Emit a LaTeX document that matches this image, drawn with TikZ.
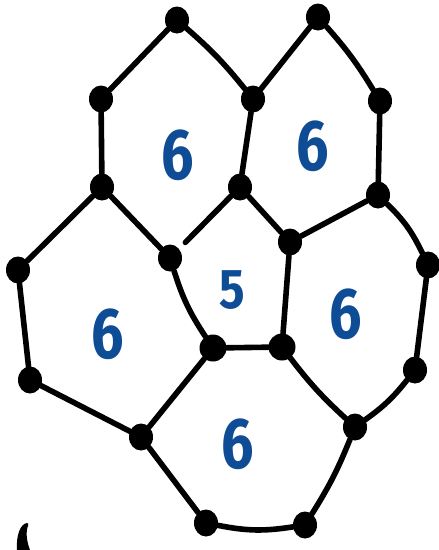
\documentclass[tikz,border=0pt]{standalone}
\usepackage{fontspec}
\usetikzlibrary{shapes.geometric}
\setsansfont{Fira Sans}
\definecolor{numblue}{HTML}{0F4C96}
\begin{document}
\begin{tikzpicture}[x=1pt,y=-1pt,
  vtx/.style={ellipse,fill=black,inner sep=0pt,minimum width=24pt,minimum height=27pt},
  edge/.style={line width=5.6pt,line cap=round},
  num/.style={text=numblue,font=\sffamily\bfseries\fontsize{72}{72}\selectfont,inner sep=0pt,xscale=0.8},
  numsm/.style={text=numblue,font=\sffamily\bfseries\fontsize{56}{56}\selectfont,inner sep=0pt,xscale=0.85}]
\useasboundingbox (0,0) rectangle (439,550);
\node[vtx] (A) at (177,20) {};
\node[vtx] (B) at (318,17) {};
\node[vtx] (C) at (101,99) {};
\node[vtx] (D) at (253,99) {};
\node[vtx] (E) at (380,101) {};
\node[vtx] (F) at (102,187) {};
\node[vtx] (G) at (240,187) {};
\node[vtx] (H) at (378,195) {};
\node[vtx] (I) at (170,258) {};
\node[vtx] (J) at (290,242) {};
\node[vtx] (K) at (428,265) {};
\node[vtx] (L) at (18,270) {};
\node[vtx,minimum width=27pt] (M) at (213,348) {};
\node[vtx,minimum width=27pt] (N) at (282,347) {};
\node[vtx] (O) at (30,380) {};
\node[vtx] (P) at (415,370) {};
\node[vtx] (Q) at (141,437) {};
\node[vtx] (R) at (355,427) {};
\node[vtx] (S) at (206,523) {};
\node[vtx] (T) at (305,525) {};
\draw[edge] (A) -- (C);
\draw[edge] (A) to[bend left=5] (D);
\draw[edge] (B) -- (D);
\draw[edge] (B) to[bend left=5] (E);
\draw[edge] (C) -- (F);
\draw[edge] (D) -- (G);
\draw[edge] (E) -- (H);
\draw[edge,shorten >=9pt] (G) -- (I);
\draw[edge] (F) -- (I);
\draw[edge] (G) -- (J);
\draw[edge] (H) -- (J);
\draw[edge] (I) to[bend right=8] (M);
\draw[edge] (M) -- (N);
\draw[edge] (J) -- (N);
\draw[edge] (F) -- (L);
\draw[edge] (L) -- (O);
\draw[edge] (O) -- (Q);
\draw[edge] (Q) -- (M);
\draw[edge] (H) to[bend left=10] (K);
\draw[edge] (K) -- (P);
\draw[edge] (P) to[bend left=8] (R);
\draw[edge] (R) to[bend left=5] (N);
\draw[edge] (R) to[bend left=5] (T);
\draw[edge] (T) to[bend left=10] (S);
\draw[edge] (S) -- (Q);
\fill (27,523) .. controls (20,524) and (16,536) .. (17,550) -- (30,550) .. controls (26,540) and (26,530) .. (28,526) .. controls (29,524) and (28,523) .. (27,523) -- cycle;
\node[num] (n1) at (178,155) {6};
\node[num] (n2) at (313,146) {6};
\node[numsm] (n3) at (232,290) {5};
\node[num] (n4) at (108,334) {6};
\node[num] (n5) at (346,314) {6};
\node[num] (n6) at (238,444) {6};
\end{tikzpicture}
\end{document}
